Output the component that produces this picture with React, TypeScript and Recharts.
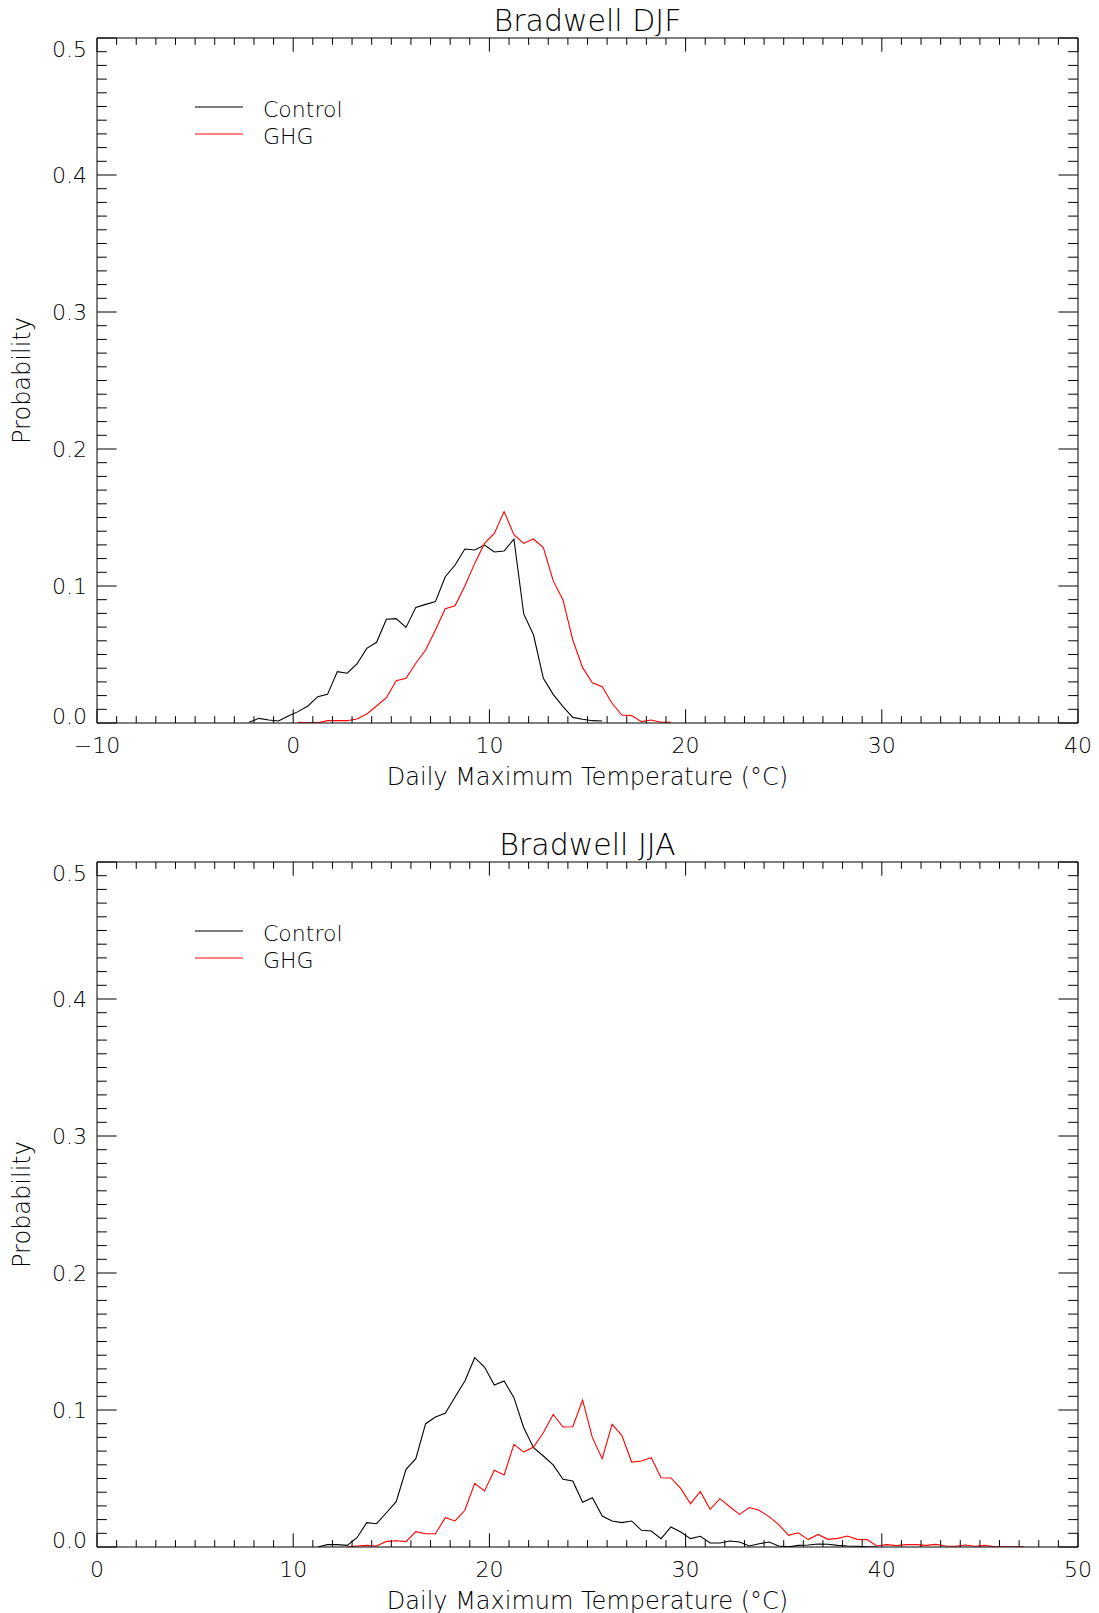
import React from "react";
import { LineChart, Line, XAxis, YAxis } from "recharts";

// page + plot box (px)
const W = 1099;
const PLOT_LEFT = 97;
const PLOT_RIGHT = 1078;
const PLOT_H = 685;
const AXIS = 10;
const FONT = "'DejaVu Sans', sans-serif";
const WEIGHT = 200;

// histogram bins are 0.5 degC wide, centred on x.25 / x.75
const BIN = 0.5;

// Bradwell DJF
const djfControlStart = -2.25;
const djfControl = [
  0.0005, 0.0034, 0.0022, 0.0015, 0.0051, 0.0083, 0.0124, 0.0192, 0.0209, 0.0375,
  0.0363, 0.0431, 0.0545, 0.0589, 0.0757, 0.0762, 0.0698, 0.0844, 0.0866, 0.0886,
  0.1068, 0.1153, 0.127, 0.1263, 0.1299, 0.1248, 0.1255, 0.1343, 0.0796, 0.0642,
  0.0326, 0.0209, 0.0119, 0.0041, 0.0027, 0.0017, 0.0015,
];
const djfGhgStart = 0.25;
const djfGhg = [
  0.0005, 0.0002, 0.0002, 0.0017, 0.0017, 0.0017, 0.0029, 0.0066, 0.0124, 0.0185,
  0.0309, 0.0326, 0.0436, 0.0533, 0.0679, 0.0834, 0.0856, 0.1, 0.1165, 0.1311,
  0.1384, 0.1543, 0.1375, 0.1311, 0.1343, 0.128, 0.1039, 0.0898, 0.0606, 0.0404,
  0.0294, 0.0265, 0.0144, 0.0058, 0.0054, 0.001, 0.0022, 0.0005, 0.0005,
];

// Bradwell JJA
const jjaControlStart = 11.25;
const jjaControl = [
  0.0, 0.0017, 0.0017, 0.0012, 0.0068, 0.0178, 0.017, 0.025, 0.0331, 0.0567,
  0.0645, 0.09, 0.0949, 0.0976, 0.1095, 0.1212, 0.1382, 0.1314, 0.1182, 0.1212,
  0.109, 0.0871, 0.0725, 0.0664, 0.0599, 0.0494, 0.0482, 0.0326, 0.036, 0.0226,
  0.019, 0.0178, 0.019, 0.0122, 0.0117, 0.0061, 0.0146, 0.0109, 0.0061, 0.0078,
  0.0029, 0.0029, 0.0044, 0.0036, 0.0007, 0.0024, 0.0036, 0.0007, 0.0002, 0.0012,
  0.0015, 0.0022, 0.002, 0.0012, 0.0007, 0.0005, 0.0002, 0.0,
];
const jjaGhgStart = 12.75;
const jjaGhg = [
  0.0, 0.0007, 0.0012, 0.0007, 0.0041, 0.0046, 0.0039, 0.0112, 0.0097, 0.0097,
  0.0214, 0.019, 0.0268, 0.0465, 0.0409, 0.056, 0.0526, 0.0749, 0.0693, 0.073,
  0.0834, 0.0968, 0.0876, 0.0878, 0.1073, 0.0798, 0.0645, 0.0895, 0.0815, 0.062,
  0.0628, 0.0652, 0.0506, 0.0504, 0.0428, 0.0316, 0.0406, 0.0275, 0.0353, 0.0294,
  0.0238, 0.0288, 0.0268, 0.0222, 0.0163, 0.0085, 0.0104, 0.0054, 0.0092, 0.0056,
  0.0063, 0.008, 0.0056, 0.0054, 0.0007, 0.0017, 0.001, 0.0017, 0.0017, 0.0012,
  0.0019, 0.0007, 0.0005, 0.0015, 0.0005, 0.0012, 0.0002, 0.0002, 0.0002, 0.0002,
];

const djfXLabels = [-10, 0, 10, 20, 30, 40];
const jjaXLabels = [0, 10, 20, 30, 40, 50];
const yLabels = [0, 0.1, 0.2, 0.3, 0.4, 0.5];

type Pt = { t: number; p: number };
const toPoints = (start: number, vals: number[]): Pt[] =>
  vals.map((p, i) => ({ t: start + i * BIN, p }));

// minor ticks: every 1 degC on x, every 0.01 on y
const intRange = (a: number, b: number) => {
  const out: number[] = [];
  for (let v = a; v <= b; v++) out.push(v);
  return out;
};
const yTicks = intRange(0, 50).map((i) => i / 100);

const fmtX = (v: number) => (v < 0 ? `\u2212${-v}` : `${v}`);

const textStyle = { fontFamily: FONT, fontWeight: WEIGHT, fill: "#000" } as const;

function XTick(props: any) {
  const { x, y, payload, side, majors } = props;
  const v = payload.value;
  const major = majors.includes(v);
  const len = major ? 13.7 : 6.85;
  const dir = side === "bottom" ? -1 : 1;
  return (
    <g>
      <line x1={x} y1={y} x2={x} y2={y + dir * len} stroke="#000" strokeWidth={1} />
      {side === "bottom" && major && (
        <text x={x} y={y + 30} textAnchor="middle" fontSize={22} {...textStyle}>
          {fmtX(v)}
        </text>
      )}
    </g>
  );
}

function YTick(props: any) {
  const { x, y, payload, side } = props;
  const v = payload.value;
  const major = Math.round(v * 100) % 10 === 0;
  const len = major ? 19.6 : 9.8;
  const dir = side === "left" ? 1 : -1;
  let dy = 0;
  if (v === 0) dy = -7;
  if (v === 0.5) dy = 11;
  return (
    <g>
      <line x1={x} y1={y} x2={x + dir * len} y2={y} stroke="#000" strokeWidth={1} />
      {side === "left" && major && yLabels.includes(Math.round(v * 10) / 10) && (
        <text x={x - 10} y={y + dy + 8} textAnchor="end" fontSize={22} {...textStyle}>
          {v.toFixed(1)}
        </text>
      )}
    </g>
  );
}

interface PanelProps {
  title: string;
  top: number;
  height: number;
  plotTop: number;
  xMin: number;
  xMax: number;
  xLabels: number[];
  control: Pt[];
  ghg: Pt[];
}

function Panel({ title, top, height, plotTop, xMin, xMax, xLabels, control, ghg }: PanelProps) {
  const xTicks = intRange(xMin, xMax);
  const plotBottom = plotTop + PLOT_H;
  const cx = (PLOT_LEFT + PLOT_RIGHT) / 2;
  const legendY1 = plotTop + 69;
  const legendY2 = plotTop + 96;
  return (
    <div style={{ position: "absolute", left: 0, top, width: W, height }}>
      <LineChart
        width={W}
        height={height}
        margin={{
          top: plotTop - AXIS,
          right: W - PLOT_RIGHT - AXIS,
          bottom: height - plotBottom - AXIS,
          left: PLOT_LEFT - AXIS,
        }}
      >
        <XAxis
          xAxisId="b"
          type="number"
          dataKey="t"
          domain={[xMin, xMax]}
          ticks={xTicks}
          interval={0}
          height={AXIS}
          tickSize={0}
          tickMargin={0}
          tickLine={false}
          axisLine={{ stroke: "#000" }}
          allowDataOverflow
          tick={(p: any) => <XTick {...p} side="bottom" majors={xLabels} />}
        />
        <XAxis
          xAxisId="t"
          orientation="top"
          type="number"
          dataKey="t"
          domain={[xMin, xMax]}
          ticks={xTicks}
          interval={0}
          height={AXIS}
          tickSize={0}
          tickMargin={0}
          tickLine={false}
          axisLine={{ stroke: "#000" }}
          allowDataOverflow
          tick={(p: any) => <XTick {...p} side="top" majors={xLabels} />}
        />
        <YAxis
          yAxisId="l"
          type="number"
          domain={[0, 0.5]}
          ticks={yTicks}
          interval={0}
          width={AXIS}
          tickSize={0}
          tickMargin={0}
          tickLine={false}
          axisLine={{ stroke: "#000" }}
          allowDataOverflow
          tick={(p: any) => <YTick {...p} side="left" />}
        />
        <YAxis
          yAxisId="r"
          orientation="right"
          type="number"
          domain={[0, 0.5]}
          ticks={yTicks}
          interval={0}
          width={AXIS}
          tickSize={0}
          tickMargin={0}
          tickLine={false}
          axisLine={{ stroke: "#000" }}
          allowDataOverflow
          tick={(p: any) => <YTick {...p} side="right" />}
        />
        <Line
          xAxisId="b"
          yAxisId="l"
          data={control}
          dataKey="p"
          type="linear"
          stroke="#000000"
          strokeWidth={1.1}
          dot={false}
          isAnimationActive={false}
        />
        <Line
          xAxisId="b"
          yAxisId="l"
          data={ghg}
          dataKey="p"
          type="linear"
          stroke="#ff0000"
          strokeWidth={1.1}
          dot={false}
          isAnimationActive={false}
        />
      </LineChart>
      <svg
        width={W}
        height={height}
        style={{ position: "absolute", left: 0, top: 0, pointerEvents: "none", overflow: "visible" }}
      >
        <text x={cx} y={plotTop - 7.5} textAnchor="middle" fontSize={30} {...textStyle}>
          {title}
        </text>
        <text x={cx} y={plotBottom + 62} textAnchor="middle" fontSize={24} {...textStyle}>
          Daily Maximum Temperature (°C)
        </text>
        <text
          transform={`translate(30, ${plotTop + PLOT_H / 2}) rotate(-90)`}
          textAnchor="middle"
          fontSize={24}
          {...textStyle}
        >
          Probability
        </text>
        <line x1={195} x2={243} y1={legendY1} y2={legendY1} stroke="#000" strokeWidth={1} />
        <text x={263} y={legendY1 + 10} fontSize={22} {...textStyle}>
          Control
        </text>
        <line x1={195} x2={243} y1={legendY2} y2={legendY2} stroke="#ff0000" strokeWidth={1} />
        <text x={263} y={legendY2 + 10} fontSize={22} {...textStyle}>
          GHG
        </text>
      </svg>
    </div>
  );
}

export default function App() {
  return (
    <div style={{ position: "relative", width: W, height: 1613, background: "#fff" }}>
      <style>{"body{margin:0;background:#fff}"}</style>
      <Panel
        title="Bradwell DJF"
        top={0}
        height={800}
        plotTop={38}
        xMin={-10}
        xMax={40}
        xLabels={djfXLabels}
        control={toPoints(djfControlStart, djfControl)}
        ghg={toPoints(djfGhgStart, djfGhg)}
      />
      <Panel
        title="Bradwell JJA"
        top={800}
        height={813}
        plotTop={62}
        xMin={0}
        xMax={50}
        xLabels={jjaXLabels}
        control={toPoints(jjaControlStart, jjaControl)}
        ghg={toPoints(jjaGhgStart, jjaGhg)}
      />
    </div>
  );
}
